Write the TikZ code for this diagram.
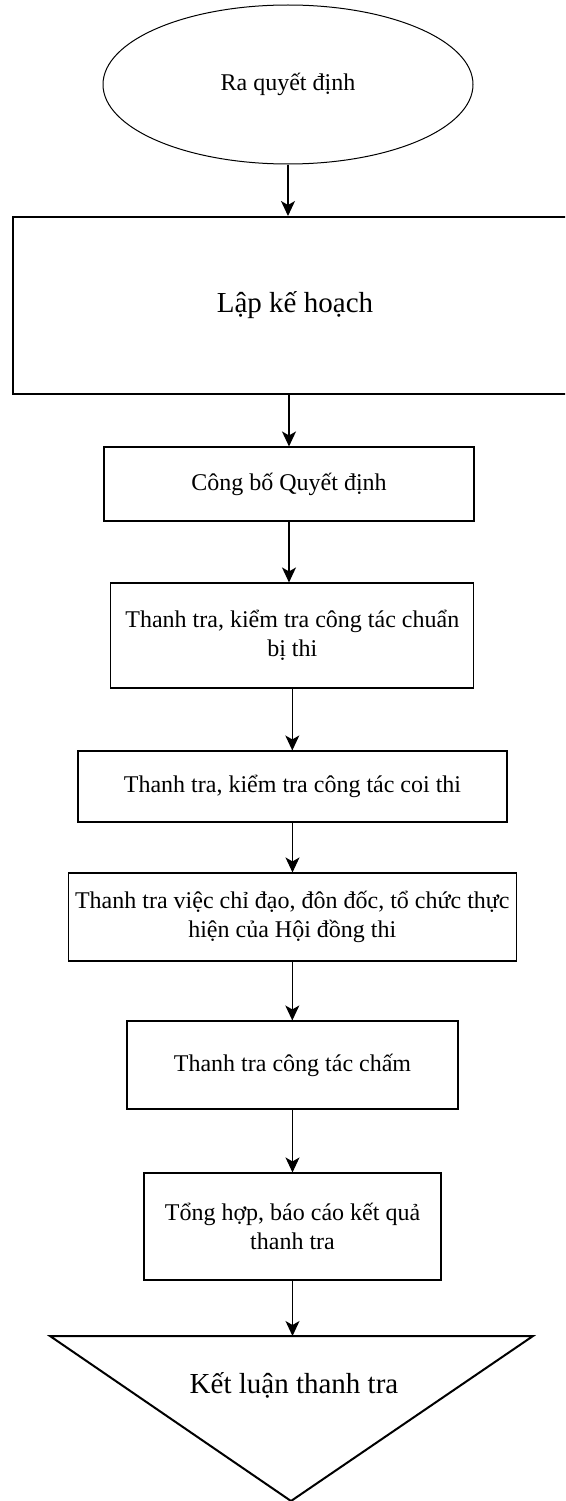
\documentclass[tikz,border=0pt]{standalone}
\usepackage{fontspec}
\setmainfont{Liberation Serif}
\usetikzlibrary{shapes.geometric,arrows.meta}
\begin{document}
\begin{tikzpicture}[x=1pt,y=-1pt,
  smalltext/.style={font=\fontsize{24}{29}\selectfont},
  bigtext/.style={font=\fontsize{29}{34}\selectfont},
  stepbox/.style={draw, line width=1.1pt, rectangle, inner sep=0pt, align=center, smalltext},
  arr/.style={-{Stealth[length=15pt,width=14pt,inset=4pt]}, line width=1.2pt}]
\clip (0,0) rectangle (565,1501);
\fill[white] (0,0) rectangle (565,1501);

\node[draw, ellipse, line width=1pt, inner sep=0pt, minimum width=370pt, minimum height=159pt, smalltext] (e) at (288,84.5) {Ra quyết định};
\node[stepbox, line width=2pt, minimum width=564pt, minimum height=177pt, bigtext] (l) at (295,305.5) {Lập kế hoạch};
\node[stepbox, minimum width=370pt, minimum height=74pt] (c) at (289,484) {Công bố Quyết định};
\node[stepbox, minimum width=363pt, minimum height=105pt] (b2) at (292.3,635.5) {Thanh tra, kiểm tra công tác chuẩn\\bị thi};
\node[stepbox, minimum width=429pt, minimum height=71pt] (b3) at (292.5,786.5) {Thanh tra, kiểm tra công tác coi thi};
\node[stepbox, minimum width=447.5pt, minimum height=88pt] (b4) at (292.3,917) {Thanh tra việc chỉ đạo, đôn đốc, tổ chức thực\\hiện của Hội đồng thi};
\node[stepbox, minimum width=331pt, minimum height=88pt] (b5) at (292.5,1065) {Thanh tra công tác chấm};
\node[stepbox, minimum width=297pt, minimum height=107pt] (b6) at (292.5,1226.5) {Tổng hợp, báo cáo kết quả\\thanh tra};

\coordinate (tl) at (50,1336);
\coordinate (tr) at (533,1336);
\coordinate (tb) at (291,1501);
\coordinate (tt) at (292,1336);
\draw[line width=2pt, line join=miter] (tl) -- (tr) -- (tb) -- cycle;
\node[bigtext, inner sep=0pt] (k) at (294,1385) {Kết luận thanh tra};

\draw[arr] (e.south) -- (e.south |- l.north);
\draw[arr] (c.north |- l.south) -- (c.north);
\draw[arr] (c.south) -- (c.south |- b2.north);
\draw[arr] (b2.south) -- (b2.south |- b3.north);
\draw[arr] (b3.south) -- (b3.south |- b4.north);
\draw[arr] (b4.south) -- (b4.south |- b5.north);
\draw[arr] (b5.south) -- (b5.south |- b6.north);
\draw[arr] (b6.south) -- (b6.south |- tt);
\end{tikzpicture}
\end{document}
